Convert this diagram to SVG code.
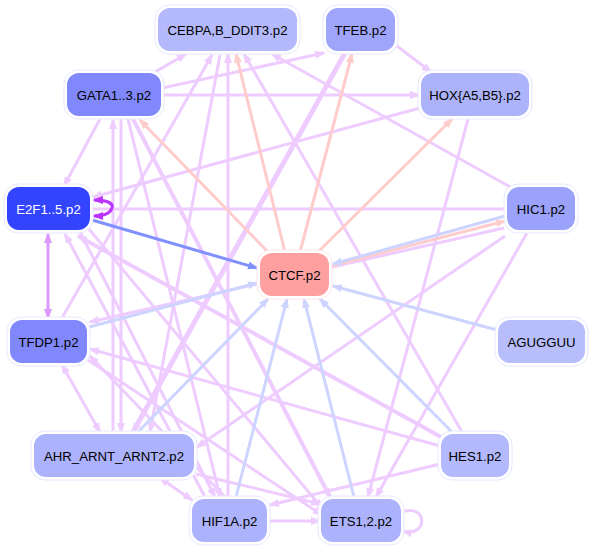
<svg xmlns="http://www.w3.org/2000/svg" width="592" height="551" viewBox="0 0 592 551">
<defs>
<style>
.e{fill:none;stroke:#eeccff;stroke-width:3}
.p{fill:none;stroke:#ffcccc;stroke-width:3}
.b{fill:none;stroke:#ccd4ff;stroke-width:3}
.o{fill:#fff;stroke:#e6e8ff;stroke-width:1}
.t{font-family:"Liberation Sans",Arial,sans-serif;font-size:13.2px;text-anchor:middle;dominant-baseline:central;fill:#000}
</style>
<marker id="ae" markerWidth="11" markerHeight="8" refX="9" refY="4" orient="auto-start-reverse" markerUnits="userSpaceOnUse"><path d="M0,0 L11,4 L0,8 z" fill="#eeccff"/></marker>
<marker id="ap" markerWidth="11" markerHeight="8" refX="9" refY="4" orient="auto-start-reverse" markerUnits="userSpaceOnUse"><path d="M0,0 L11,4 L0,8 z" fill="#ffcccc"/></marker>
<marker id="ab" markerWidth="11" markerHeight="8" refX="9" refY="4" orient="auto-start-reverse" markerUnits="userSpaceOnUse"><path d="M0,0 L11,4 L0,8 z" fill="#ccd4ff"/></marker>
<marker id="ad" markerWidth="11" markerHeight="8" refX="9" refY="4" orient="auto-start-reverse" markerUnits="userSpaceOnUse"><path d="M0,0 L11,4 L0,8 z" fill="#8090ff"/></marker>
<marker id="al" markerWidth="11" markerHeight="8" refX="9" refY="4" orient="auto-start-reverse" markerUnits="userSpaceOnUse"><path d="M0,0 L11,4 L0,8 z" fill="#bb33ff"/></marker>
<marker id="av" markerWidth="11" markerHeight="8" refX="9" refY="4" orient="auto-start-reverse" markerUnits="userSpaceOnUse"><path d="M0,0 L11,4 L0,8 z" fill="#dd99ff"/></marker>
</defs>
<g id="connectors">
<path class="e" d="M155,72 L186,54" marker-end="url(#ae)"/>
<path class="e" d="M162,95 L419,95" marker-end="url(#ae)"/>
<path class="e" d="M162,88 L324,53" marker-end="url(#ae)"/>
<path class="e" d="M100,119 L64,186" marker-end="url(#ae)"/>
<path class="e" d="M420,108 L93,197" marker-end="url(#ae)"/>
<path class="e" d="M397,46 L431,72" marker-end="url(#ae)"/>
<path class="e" d="M506,209 L93,209"/>
<path class="e" d="M512,188 L272,54" marker-end="url(#ae)"/>
<path class="e" d="M468,119 L368,497" marker-end="url(#ae)"/>
<path class="e" d="M527,233 L376,497" marker-end="url(#ae)"/>
<path class="e" d="M462,432 L244,54" marker-end="url(#ae)"/>
<path class="e" d="M228,497 L228,54" marker-end="url(#ae)"/>
<path class="e" d="M113,432 L113,120" marker-end="url(#ae)"/>
<path class="e" d="M121,119 L121,432" marker-end="url(#ae)"/>
<path class="e" d="M345,53 L133,432" style="stroke-width:5" marker-end="url(#ae)"/>
<path class="e" d="M62,365 L100,432" marker-start="url(#ae)" marker-end="url(#ae)"/>
<path class="e" d="M160,478 L192,500" marker-start="url(#ae)" marker-end="url(#ae)"/>
<path class="e" d="M441,437 L78,236" style="stroke-width:4" marker-end="url(#ae)"/>
<path class="e" d="M440,446 L90,349" marker-end="url(#ae)"/>
<path class="e" d="M440,464 L270,505" marker-end="url(#ae)"/>
<path class="e" d="M268,521 L320,521" marker-end="url(#ae)"/>
<path class="e" d="M402,512 C428,503 428,538 403,531" marker-end="url(#ae)"/>
<path class="e" d="M196,474 L320,504" marker-end="url(#ae)"/>
<path class="e" d="M504,228 L90,322" marker-end="url(#ae)"/>
<path class="e" d="M505,236 L197,447" marker-end="url(#ae)"/>
<path class="e" d="M62,318 L212,55" marker-end="url(#ae)"/>
<path class="e" d="M220,55 L150,432" marker-end="url(#ae)"/>
<path class="e" d="M128,119 L220,497" marker-end="url(#ae)"/>
<path class="e" d="M133,119 L330,497" style="stroke-width:4" marker-end="url(#ae)"/>
<path class="e" d="M80,232 L215,497" marker-end="url(#ae)"/>
<path class="e" d="M88,228 L322,508" marker-end="url(#ae)"/>
<path class="e" d="M225,497 L90,356" marker-end="url(#ae)"/>
<path class="e" d="M88,360 L322,515" marker-end="url(#ae)"/>
<path class="e" d="M205,497 L65,234" marker-end="url(#ae)"/>
<path class="p" d="M268,252 L140,120" marker-end="url(#ap)"/>
<path class="p" d="M285,252 L236,54" marker-end="url(#ap)"/>
<path class="p" d="M300,252 L352,54" marker-end="url(#ap)"/>
<path class="p" d="M318,252 L452,119" marker-end="url(#ap)"/>
<path class="p" d="M332,266 L505,221" marker-end="url(#ap)"/>
<path class="b" d="M505,216 L333,264" marker-end="url(#ab)"/>
<path class="b" d="M497,330 L333,286" marker-end="url(#ab)"/>
<path class="b" d="M452,432 L320,299" marker-end="url(#ab)"/>
<path class="b" d="M354,497 L304,299" marker-end="url(#ab)"/>
<path class="b" d="M236,497 L287,299" marker-end="url(#ab)"/>
<path class="b" d="M138,432 L268,299" marker-end="url(#ab)"/>
<path class="b" d="M89,327 L257,283" marker-end="url(#ab)"/>
<path d="M92,220 L257,268" fill="none" stroke="#8090ff" stroke-width="3" marker-end="url(#ad)"/>
<path d="M94,200 C104,200 114,202 112,208 C110,214 102,216 94,216" fill="none" stroke="#bb33ff" stroke-width="3" marker-start="url(#al)" marker-end="url(#al)"/>
<path d="M48,234 L48,318" fill="none" stroke="#dd99ff" stroke-width="3" marker-start="url(#av)" marker-end="url(#av)"/>
</g>
<g id="CEBPA"><rect class="o" x="155" y="5" width="145" height="49" rx="14"/><rect x="158" y="8" width="139" height="43" rx="12" fill="#b3b9fc"/><text class="t" x="227.5" y="30">CEBPA,B_DDIT3.p2</text></g>
<g id="TFEB"><rect class="o" x="323" y="5" width="75" height="49" rx="14"/><rect x="326" y="8" width="69" height="43" rx="12" fill="#9ea5fb"/><text class="t" x="360.5" y="30">TFEB.p2</text></g>
<g id="GATA"><rect class="o" x="64" y="70" width="100" height="49" rx="14"/><rect x="67" y="73" width="94" height="43" rx="12" fill="#8088fb"/><text class="t" x="114" y="95">GATA1..3.p2</text></g>
<g id="HOX"><rect class="o" x="418" y="70" width="114" height="49" rx="14"/><rect x="421" y="73" width="108" height="43" rx="12" fill="#adb3fb"/><text class="t" x="475" y="95">HOX{A5,B5}.p2</text></g>
<g id="E2F1"><rect class="o" x="4" y="184" width="89" height="49" rx="14"/><rect x="7" y="187" width="83" height="43" rx="12" fill="#3344ff"/><text class="t" x="48.5" y="209" style="fill:#fff">E2F1..5.p2</text></g>
<g id="HIC1"><rect class="o" x="504" y="184" width="74" height="49" rx="14"/><rect x="507" y="187" width="68" height="43" rx="12" fill="#9aa2fb"/><text class="t" x="541" y="209">HIC1.p2</text></g>
<g id="CTCF"><rect class="o" x="257" y="250" width="75" height="49" rx="14" style="stroke:#ffe4e4"/><rect x="260" y="253" width="69" height="43" rx="12" fill="#ffa0a0"/><text class="t" x="294.5" y="275">CTCF.p2</text></g>
<g id="TFDP1"><rect class="o" x="7" y="317" width="83" height="49" rx="14"/><rect x="10" y="320" width="77" height="43" rx="12" fill="#8088fb"/><text class="t" x="48.5" y="342">TFDP1.p2</text></g>
<g id="AGUGGUU"><rect class="o" x="495" y="317" width="93" height="49" rx="14"/><rect x="498" y="320" width="87" height="43" rx="12" fill="#b8bdfb"/><text class="t" x="541.5" y="342">AGUGGUU</text></g>
<g id="AHR"><rect class="o" x="31" y="431" width="166" height="49" rx="14"/><rect x="34" y="434" width="160" height="43" rx="12" fill="#acb2fb"/><text class="t" x="114" y="456">AHR_ARNT_ARNT2.p2</text></g>
<g id="HES1"><rect class="o" x="438" y="431" width="74" height="49" rx="14"/><rect x="441" y="434" width="68" height="43" rx="12" fill="#b3b9fc"/><text class="t" x="475" y="456">HES1.p2</text></g>
<g id="HIF1A"><rect class="o" x="189" y="496" width="81" height="49" rx="14"/><rect x="192" y="499" width="75" height="43" rx="12" fill="#acb2fb"/><text class="t" x="229.5" y="521">HIF1A.p2</text></g>
<g id="ETS"><rect class="o" x="318" y="496" width="86" height="49" rx="14"/><rect x="321" y="499" width="80" height="43" rx="12" fill="#acb2fb"/><text class="t" x="361" y="521">ETS1,2.p2</text></g>
</svg>
